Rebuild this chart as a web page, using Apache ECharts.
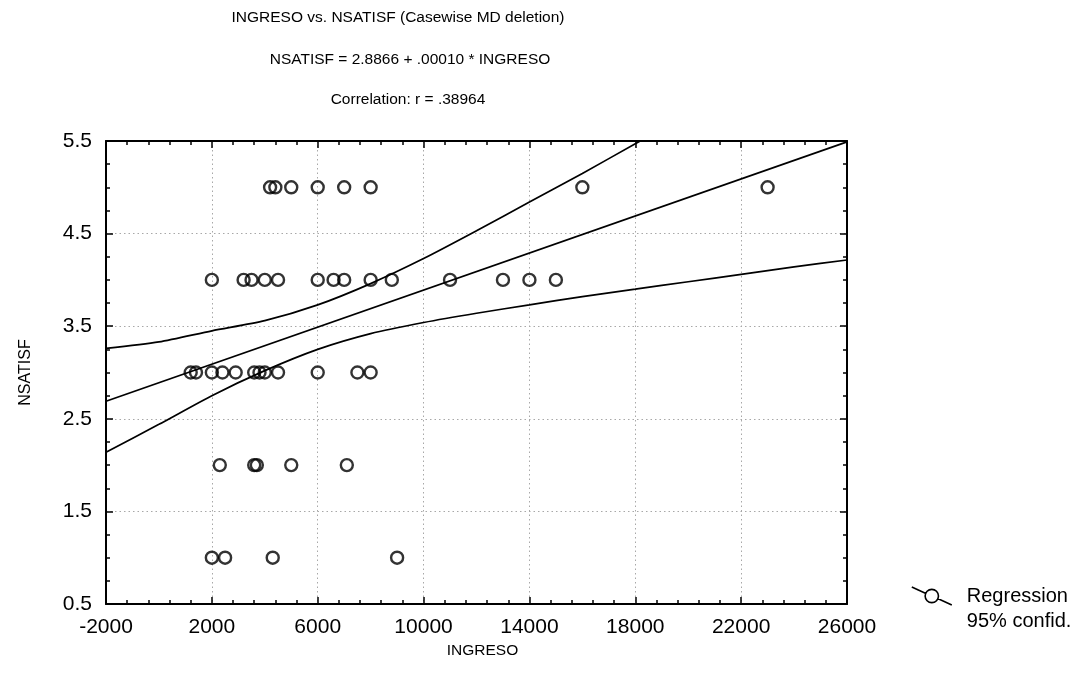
<!DOCTYPE html>
<html>
<head>
<meta charset="utf-8">
<script src="https://cdn.jsdelivr.net/npm/echarts@6/dist/echarts.min.js"></script>
<style>html,body{margin:0;padding:0;background:#fff;}#chart{width:1087px;height:683px;}</style>
</head>
<body>
<div id="chart"></div>
<script>
// ---- data ----
const titleLines = [
  'INGRESO vs. NSATISF (Casewise MD deletion)',
  'NSATISF = 2.8866 + .00010 * INGRESO',
  'Correlation: r = .38964'
];
const xName = 'INGRESO';
const yName = 'NSATISF';
// NSATISF level -> INGRESO values observed at that level
const levels = [5, 4, 3, 2, 1];
const ingresoAt5 = [4200, 4400, 5000, 6000, 7000, 8000, 16000, 23000];
const ingresoAt4 = [2000, 3200, 3500, 4000, 4500, 6000, 6600, 7000, 8000, 8800, 11000, 13000, 14000, 15000];
const ingresoAt3 = [1200, 1400, 2000, 2400, 2900, 3600, 3800, 4000, 4500, 6000, 7500, 8000];
const ingresoAt2 = [2300, 3600, 3700, 5000, 7100];
const ingresoAt1 = [2000, 2500, 4300, 9000];
// regression line end points
const regX = [-2000, 26000];
const regY = [2.69, 5.49];
// 95% confidence band, read at these INGRESO positions
const bandX = [-2000, 0, 2000, 4000, 6000, 8000, 10000, 12000, 14000, 16000, 18000, 20000, 22000, 24000, 26000];
const bandUpper = [3.26, 3.33, 3.45, 3.56, 3.73, 3.96, 4.23, 4.53, 4.84, 5.15, 5.47, 5.79, null, null, null];
const bandLower = [2.14, 2.44, 2.75, 3.02, 3.25, 3.42, 3.54, 3.64, 3.73, 3.82, 3.90, 3.98, 4.06, 4.14, 4.215];

// ---- build ----
const groups = [ingresoAt5, ingresoAt4, ingresoAt3, ingresoAt2, ingresoAt1];
const scatterData = [];
groups.forEach((g, i) => g.forEach(x => scatterData.push([x, levels[i]])));
const zip = (xs, ys) => xs.map((x, i) => [x, ys[i]]).filter(p => p[1] !== null);

const SANS = '"Liberation Sans", Arial, sans-serif';

const grid = { left: 106, right: 240, top: 141, bottom: 79 };
const gridLine = { show: true, lineStyle: { color: '#a8a8a8', type: [1.5, 3], width: 1 } };
const axisLine = { show: true, onZero: false, lineStyle: { color: '#000', width: 2 } };
const tick = { show: true, inside: true, length: 7, lineStyle: { color: '#000', width: 1.5 } };
const plain = v => String(v);

const chart = echarts.init(document.getElementById('chart'), null, { renderer: 'canvas' });
chart.setOption({
  backgroundColor: '#fff',
  animation: false,
  graphic: titleLines.map((t, i) => ({
    type: 'text', x: 398 + [0, 12, 10][i], y: [18, 60, 100][i],
    style: { text: t, fill: '#000', font: '15.5px ' + SANS, textAlign: 'center', textVerticalAlign: 'middle' }
  })),
  grid: grid,
  legend: {
    orient: 'vertical', left: 906, top: 581, itemWidth: 40, itemHeight: 18, itemGap: 5,
    textStyle: { fontFamily: SANS, fontSize: 20, color: '#000', padding: [0, 0, 0, 10] },
    data: [
      { name: 'Regression', icon: 'path://M0,0 L11,5 M19,8.5 L30,13.5 M10,6.75 A5,5 0 1,0 20,6.75 A5,5 0 1,0 10,6.75',
        itemStyle: { color: 'transparent', borderColor: '#000', borderWidth: 1.6 } },
      { name: '95% confid.', icon: 'none' }
    ]
  },
  xAxis: [{
    type: 'value', position: 'bottom', min: -2000, max: 26000, interval: 4000,
    name: xName, nameLocation: 'middle', nameGap: 38,
    nameTextStyle: { fontFamily: SANS, fontSize: 15.5, color: '#000', padding: [0, 0, 0, 12] },
    axisLine: axisLine, axisTick: tick,
    minorTick: { show: true, splitNumber: 5, length: 4, lineStyle: { color: '#000', width: 1.5 } },
    axisLabel: { fontFamily: SANS, fontSize: 21, color: '#000', margin: 13, formatter: plain },
    splitLine: gridLine
  }, {
    type: 'value', position: 'top', min: -2000, max: 26000, interval: 4000,
    axisLine: axisLine, axisTick: tick,
    minorTick: { show: true, splitNumber: 5, length: 4, lineStyle: { color: '#000', width: 1.5 } },
    axisLabel: { show: false }, splitLine: { show: false }
  }],
  yAxis: [{
    type: 'value', position: 'left', min: 0.5, max: 5.5, interval: 1,
    name: yName, nameLocation: 'middle', nameGap: 72, nameRotate: 90,
    nameTextStyle: { fontFamily: SANS, fontSize: 16, color: '#000' },
    axisLine: axisLine, axisTick: tick,
    minorTick: { show: true, splitNumber: 4, length: 4, lineStyle: { color: '#000', width: 1.5 } },
    axisLabel: { fontFamily: SANS, fontSize: 21, color: '#000', margin: 14 },
    splitLine: gridLine
  }, {
    type: 'value', position: 'right', min: 0.5, max: 5.5, interval: 1,
    axisLine: axisLine, axisTick: tick,
    minorTick: { show: true, splitNumber: 4, length: 4, lineStyle: { color: '#000', width: 1.5 } },
    axisLabel: { show: false }, splitLine: { show: false }
  }],
  series: [
    {
      name: '95% confid.', type: 'line', data: zip(bandX, bandUpper), smooth: 0.25,
      showSymbol: false, clip: true, lineStyle: { color: '#000', width: 1.7 }, itemStyle: { color: '#000' }
    },
    {
      name: '95% confid.', type: 'line', data: zip(bandX, bandLower), smooth: 0.25,
      showSymbol: false, clip: true, lineStyle: { color: '#000', width: 1.7 }, itemStyle: { color: '#000' }
    },
    {
      name: 'Regression', type: 'line', data: zip(regX, regY),
      showSymbol: false, clip: true, lineStyle: { color: '#000', width: 1.7 }, itemStyle: { color: '#000' }
    },
    {
      name: 'Regression', type: 'scatter', data: scatterData, symbol: 'circle', symbolSize: 12,
      itemStyle: { color: 'transparent', borderColor: '#000', borderWidth: 2.4 }, z: 5
    }
  ]
});
</script>
</body>
</html>
